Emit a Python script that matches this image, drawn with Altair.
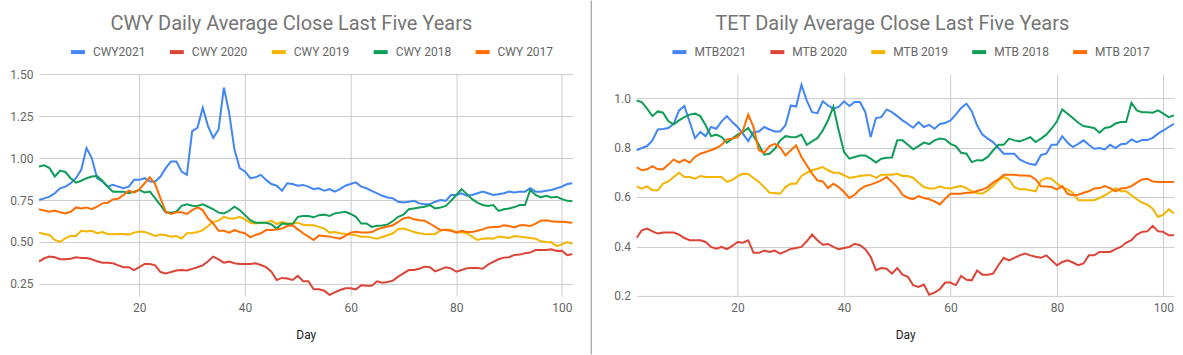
import altair as alt
import pandas as pd

FONT = "Roboto"
days = list(range(1, 103))

cwy_names = ["CWY2021", "CWY 2020", "CWY 2019", "CWY 2018", "CWY 2017"]
mtb_names = ["MTB2021", "MTB 2020", "MTB 2019", "MTB 2018", "MTB 2017"]
colors = ["#4285F4", "#DB4437", "#F4B400", "#0F9D58", "#FF6D01"]
cwy_title = "CWY Daily Average Close Last Five Years"
mtb_title = "TET Daily Average Close Last Five Years"

cwy2021 = [0.75, 0.76, 0.77, 0.79, 0.82, 0.83, 0.85, 0.88, 0.93, 1.06,
           1.00, 0.88, 0.86, 0.83, 0.84, 0.83, 0.82, 0.83, 0.87, 0.87,
           0.88, 0.86, 0.86, 0.89, 0.94, 0.98, 0.98, 0.92, 0.90, 1.16,
           1.18, 1.30, 1.19, 1.12, 1.17, 1.42, 1.27, 1.05, 0.94, 0.92,
           0.88, 0.885, 0.90, 0.87, 0.845, 0.835, 0.805, 0.85, 0.845, 0.835,
           0.84, 0.83, 0.815, 0.82, 0.805, 0.815, 0.80, 0.815, 0.835, 0.845,
           0.855, 0.83, 0.82, 0.805, 0.79, 0.775, 0.765, 0.76, 0.74, 0.735,
           0.74, 0.745, 0.73, 0.725, 0.725, 0.74, 0.75, 0.745, 0.78, 0.78,
           0.79, 0.775, 0.78, 0.79, 0.80, 0.79, 0.78, 0.785, 0.79, 0.80,
           0.795, 0.80, 0.80, 0.82, 0.80, 0.80, 0.805, 0.81, 0.82, 0.83,
           0.845, 0.85]
cwy2020 = [0.383, 0.403, 0.413, 0.409, 0.397, 0.397, 0.40, 0.409, 0.405, 0.405,
           0.397, 0.385, 0.377, 0.377, 0.373, 0.361, 0.35, 0.35, 0.333, 0.35,
           0.369, 0.369, 0.361, 0.321, 0.313, 0.321, 0.33, 0.333, 0.33, 0.34,
           0.35, 0.361, 0.385, 0.413, 0.397, 0.377, 0.383, 0.373, 0.369, 0.369,
           0.369, 0.373, 0.363, 0.35, 0.323, 0.274, 0.286, 0.282, 0.274, 0.298,
           0.266, 0.266, 0.218, 0.218, 0.21, 0.185, 0.20, 0.214, 0.224, 0.224,
           0.218, 0.242, 0.24, 0.24, 0.266, 0.258, 0.262, 0.27, 0.294, 0.313,
           0.333, 0.333, 0.341, 0.353, 0.35, 0.325, 0.337, 0.35, 0.343, 0.323,
           0.333, 0.343, 0.345, 0.345, 0.341, 0.365, 0.381, 0.397, 0.407, 0.409,
           0.423, 0.425, 0.433, 0.437, 0.452, 0.452, 0.452, 0.456, 0.446, 0.448,
           0.421, 0.429]
cwy2019 = [0.556, 0.548, 0.542, 0.512, 0.50, 0.522, 0.536, 0.536, 0.567, 0.563,
           0.567, 0.552, 0.56, 0.548, 0.546, 0.548, 0.548, 0.544, 0.556, 0.563,
           0.56, 0.548, 0.536, 0.544, 0.54, 0.532, 0.536, 0.52, 0.552, 0.554,
           0.56, 0.571, 0.595, 0.62, 0.627, 0.65, 0.64, 0.64, 0.65, 0.635,
           0.615, 0.61, 0.615, 0.615, 0.627, 0.607, 0.62, 0.61, 0.61, 0.615,
           0.603, 0.60, 0.60, 0.59, 0.58, 0.556, 0.56, 0.552, 0.548, 0.544,
           0.54, 0.532, 0.532, 0.526, 0.52, 0.53, 0.54, 0.552, 0.577, 0.58,
           0.571, 0.56, 0.552, 0.548, 0.546, 0.548, 0.567, 0.575, 0.571, 0.56,
           0.556, 0.552, 0.532, 0.512, 0.52, 0.522, 0.52, 0.532, 0.528, 0.524,
           0.536, 0.532, 0.528, 0.524, 0.52, 0.504, 0.50, 0.498, 0.476, 0.486,
           0.50, 0.49]
cwy2018 = [0.95, 0.957, 0.94, 0.89, 0.925, 0.917, 0.88, 0.853, 0.865, 0.88,
           0.89, 0.893, 0.865, 0.83, 0.80, 0.80, 0.80, 0.79, 0.80, 0.81,
           0.795, 0.80, 0.76, 0.72, 0.675, 0.675, 0.68, 0.715, 0.725, 0.716,
           0.715, 0.724, 0.71, 0.695, 0.675, 0.67, 0.686, 0.71, 0.69, 0.66,
           0.63, 0.615, 0.615, 0.615, 0.605, 0.58, 0.61, 0.607, 0.607, 0.65,
           0.655, 0.655, 0.647, 0.66, 0.663, 0.655, 0.67, 0.675, 0.68, 0.667,
           0.65, 0.61, 0.61, 0.59, 0.597, 0.598, 0.605, 0.625, 0.65, 0.663,
           0.695, 0.70, 0.705, 0.71, 0.72, 0.70, 0.705, 0.715, 0.745, 0.78,
           0.815, 0.785, 0.755, 0.735, 0.72, 0.715, 0.72, 0.685, 0.695, 0.70,
           0.708, 0.72, 0.72, 0.81, 0.78, 0.766, 0.775, 0.765, 0.77, 0.755,
           0.745, 0.743]
cwy2017 = [0.695, 0.687, 0.68, 0.687, 0.677, 0.67, 0.68, 0.706, 0.70, 0.706,
           0.695, 0.71, 0.73, 0.734, 0.754, 0.758, 0.78, 0.806, 0.794, 0.813,
           0.85, 0.885, 0.845, 0.76, 0.68, 0.667, 0.677, 0.677, 0.667, 0.69,
           0.706, 0.69, 0.64, 0.61, 0.567, 0.567, 0.556, 0.571, 0.56, 0.552,
           0.528, 0.542, 0.552, 0.571, 0.571, 0.575, 0.58, 0.595, 0.60, 0.575,
           0.552, 0.532, 0.512, 0.538, 0.536, 0.532, 0.526, 0.52, 0.536, 0.556,
           0.561, 0.556, 0.556, 0.56, 0.575, 0.585, 0.592, 0.60, 0.62, 0.64,
           0.647, 0.635, 0.63, 0.627, 0.61, 0.59, 0.571, 0.571, 0.567, 0.556,
           0.567, 0.56, 0.56, 0.567, 0.575, 0.587, 0.59, 0.59, 0.60, 0.595,
           0.587, 0.60, 0.60, 0.595, 0.61, 0.627, 0.63, 0.623, 0.62, 0.62,
           0.618, 0.615]

mtb2021 = [0.789, 0.798, 0.806, 0.829, 0.873, 0.875, 0.879, 0.896, 0.95, 0.968,
           0.903, 0.838, 0.863, 0.846, 0.883, 0.876, 0.906, 0.927, 0.903, 0.883,
           0.856, 0.826, 0.863, 0.865, 0.883, 0.873, 0.865, 0.865, 0.89, 0.97,
           0.966, 1.054, 0.99, 0.943, 0.939, 0.987, 0.97, 0.957, 0.964, 0.987,
           0.968, 0.984, 0.984, 0.943, 0.842, 0.919, 0.923, 0.954, 0.943, 0.927,
           0.91, 0.895, 0.88, 0.903, 0.883, 0.892, 0.876, 0.895, 0.899, 0.91,
           0.933, 0.96, 0.977, 0.947, 0.89, 0.852, 0.836, 0.822, 0.798, 0.775,
           0.775, 0.775, 0.752, 0.741, 0.733, 0.73, 0.77, 0.775, 0.811, 0.811,
           0.846, 0.819, 0.802, 0.815, 0.829, 0.811, 0.795, 0.798, 0.792, 0.811,
           0.798, 0.813, 0.815, 0.833, 0.822, 0.83, 0.83, 0.839, 0.856, 0.869,
           0.883, 0.896]
mtb2020 = [0.434, 0.465, 0.472, 0.461, 0.452, 0.456, 0.456, 0.456, 0.448, 0.434,
           0.425, 0.425, 0.425, 0.418, 0.398, 0.391, 0.398, 0.389, 0.402, 0.418,
           0.415, 0.425, 0.374, 0.374, 0.383, 0.378, 0.383, 0.371, 0.38, 0.39,
           0.394, 0.398, 0.421, 0.448, 0.425, 0.407, 0.41, 0.398, 0.389, 0.394,
           0.398, 0.411, 0.405, 0.389, 0.358, 0.304, 0.313, 0.31, 0.29, 0.313,
           0.286, 0.277, 0.243, 0.236, 0.246, 0.205, 0.213, 0.227, 0.254, 0.254,
           0.243, 0.281, 0.265, 0.263, 0.303, 0.286, 0.286, 0.29, 0.324, 0.354,
           0.344, 0.354, 0.364, 0.371, 0.364, 0.358, 0.354, 0.364, 0.344, 0.324,
           0.337, 0.344, 0.335, 0.324, 0.331, 0.364, 0.364, 0.378, 0.378, 0.378,
           0.389, 0.398, 0.415, 0.425, 0.448, 0.459, 0.461, 0.483, 0.461, 0.459,
           0.445, 0.445]
mtb2019 = [0.643, 0.634, 0.643, 0.627, 0.627, 0.654, 0.663, 0.681, 0.698, 0.681,
           0.681, 0.674, 0.685, 0.681, 0.681, 0.681, 0.681, 0.661, 0.669, 0.683,
           0.694, 0.693, 0.677, 0.661, 0.64, 0.617, 0.616, 0.613, 0.64, 0.654,
           0.654, 0.685, 0.698, 0.708, 0.714, 0.721, 0.708, 0.698, 0.698, 0.688,
           0.677, 0.681, 0.685, 0.688, 0.688, 0.677, 0.69, 0.69, 0.69, 0.694,
           0.685, 0.685, 0.677, 0.658, 0.64, 0.634, 0.634, 0.643, 0.636, 0.634,
           0.64, 0.644, 0.636, 0.623, 0.615, 0.614, 0.627, 0.644, 0.667, 0.681,
           0.671, 0.64, 0.631, 0.631, 0.627, 0.623, 0.667, 0.677, 0.674, 0.654,
           0.64, 0.631, 0.617, 0.587, 0.587, 0.587, 0.587, 0.596, 0.607, 0.62,
           0.636, 0.623, 0.623, 0.607, 0.591, 0.577, 0.569, 0.553, 0.519, 0.529,
           0.55, 0.533]
mtb2018 = [0.99, 0.984, 0.957, 0.927, 0.946, 0.941, 0.906, 0.894, 0.91, 0.923,
           0.933, 0.937, 0.927, 0.89, 0.846, 0.852, 0.842, 0.82, 0.836, 0.852,
           0.863, 0.879, 0.846, 0.811, 0.771, 0.775, 0.795, 0.829, 0.846, 0.843,
           0.842, 0.852, 0.811, 0.825, 0.838, 0.869, 0.91, 0.965, 0.869, 0.782,
           0.755, 0.762, 0.768, 0.768, 0.755, 0.739, 0.755, 0.759, 0.76, 0.829,
           0.829, 0.811, 0.793, 0.806, 0.82, 0.814, 0.829, 0.836, 0.833, 0.815,
           0.806, 0.779, 0.775, 0.741, 0.749, 0.748, 0.762, 0.788, 0.811, 0.811,
           0.836, 0.829, 0.825, 0.833, 0.842, 0.822, 0.836, 0.852, 0.876, 0.906,
           0.954, 0.937, 0.919, 0.90, 0.887, 0.883, 0.879, 0.86, 0.879, 0.883,
           0.897, 0.903, 0.903, 0.981, 0.95, 0.943, 0.943, 0.941, 0.95, 0.937,
           0.923, 0.93]
mtb2017 = [0.721, 0.708, 0.712, 0.725, 0.712, 0.712, 0.731, 0.752, 0.739, 0.751,
           0.739, 0.762, 0.775, 0.782, 0.789, 0.798, 0.811, 0.833, 0.836, 0.842,
           0.869, 0.933, 0.883, 0.789, 0.779, 0.806, 0.815, 0.80, 0.768, 0.789,
           0.809, 0.762, 0.728, 0.694, 0.667, 0.663, 0.636, 0.654, 0.64, 0.62,
           0.596, 0.609, 0.631, 0.644, 0.65, 0.658, 0.667, 0.681, 0.661, 0.64,
           0.609, 0.596, 0.591, 0.604, 0.596, 0.591, 0.582, 0.57, 0.593, 0.613,
           0.613, 0.613, 0.617, 0.617, 0.624, 0.63, 0.64, 0.658, 0.671, 0.69,
           0.69, 0.69, 0.687, 0.687, 0.685, 0.671, 0.643, 0.642, 0.64, 0.631,
           0.644, 0.613, 0.607, 0.609, 0.617, 0.623, 0.634, 0.636, 0.644, 0.636,
           0.623, 0.634, 0.636, 0.644, 0.658, 0.671, 0.674, 0.663, 0.661, 0.661,
           0.661, 0.661]

cwy_ticks = [0.25, 0.50, 0.75, 1.00, 1.25, 1.50]
mtb_ticks = [0.2, 0.4, 0.6, 0.8, 1.0]
x_ticks = [20, 40, 60, 80, 100]


def long_df(names, series):
    rows = []
    for name, vals in zip(names, series):
        assert len(vals) == len(days), (name, len(vals))
        for d, v in zip(days, vals):
            rows.append({"day": d, "value": v, "series": name})
    return pd.DataFrame(rows)


cwy_df = long_df(cwy_names, [cwy2021, cwy2020, cwy2019, cwy2018, cwy2017])
mtb_df = long_df(mtb_names, [mtb2021, mtb2020, mtb2019, mtb2018, mtb2017])

PLOT_H = 222


def panel(df, names, ydomain, yticks, yfmt, width, legend_x, title, title_x,
          sep_x, edge_x, show_sep):
    lines = alt.Chart(df).mark_line(strokeWidth=2, clip=True).encode(
        x=alt.X("day:Q",
                scale=alt.Scale(domain=[1, 102], nice=False, zero=False),
                axis=alt.Axis(values=x_ticks, title="Day", grid=True, ticks=False,
                              domain=False, labelPadding=7, titlePadding=16)),
        y=alt.Y("value:Q",
                scale=alt.Scale(domain=ydomain, nice=False, zero=False),
                axis=alt.Axis(values=yticks, format=yfmt, title=None, ticks=False,
                              domain=False, labelPadding=6)),
        color=alt.Color("series:N",
                        scale=alt.Scale(domain=names, range=colors),
                        legend=alt.Legend(title=None, orient="none", legendX=legend_x,
                                          legendY=-31, direction="horizontal", columns=5,
                                          symbolType="stroke", symbolSize=196,
                                          symbolStrokeWidth=4, labelFontSize=12,
                                          labelColor="#666666", labelFont=FONT,
                                          labelOffset=6, columnPadding=16, padding=0,
                                          labelLimit=200)),
        order=alt.Order("day:Q"),
    )
    one = pd.DataFrame({"label": [title]})
    head = alt.Chart(one).mark_text(
        font=FONT, fontSize=20, color="#757575", align="center", baseline="alphabetic"
    ).encode(x=alt.value(title_x), y=alt.value(-44), text="label:N")
    sep = alt.Chart(one).mark_rule(
        color="#8a8a8a", strokeWidth=1, strokeOpacity=1.0 if show_sep else 0.0
    ).encode(x=alt.value(sep_x), y=alt.value(-73.5), y2=alt.value(PLOT_H + 58.5))
    edge = alt.Chart(one).mark_rule(color="#ffffff", strokeWidth=1, strokeOpacity=0.0).encode(
        x=alt.value(edge_x), y=alt.value(-73.5), y2=alt.value(PLOT_H + 58.5))
    return alt.layer(lines, head, sep, edge).properties(width=width, height=PLOT_H)


left = panel(cwy_df, cwy_names, [0.179, 1.5], cwy_ticks, ".2f", 534, 30,
             cwy_title, 252.6, 552.7, -38.5, True)
right = panel(mtb_df, mtb_names, [0.2, 1.097], mtb_ticks, ".1f", 538, 34,
              mtb_title, 256, -43.5, 546.5, False)

chart = alt.hconcat(left, right, spacing=0).resolve_scale(
    color="independent", x="independent", y="independent"
).properties(padding=0).configure_view(stroke=None).configure_axis(
    gridColor="#cccccc", labelColor="#666666", labelFont=FONT, labelFontSize=12,
    titleFont=FONT, titleFontSize=12, titleColor="#222222", titleFontWeight="normal",
).configure_concat(spacing=0)

chart.save("out.html", embed_options={"renderer": "svg", "actions": False})
